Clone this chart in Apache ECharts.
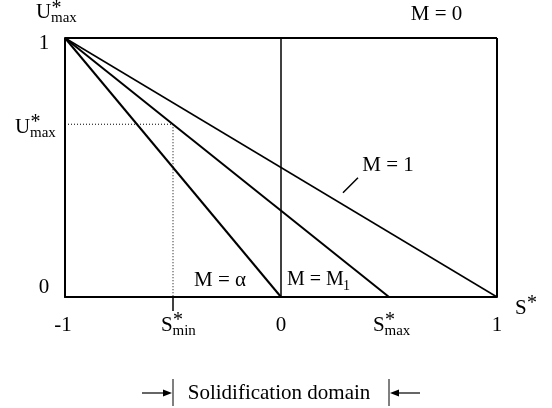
<!DOCTYPE html>
<html>
<head>
<meta charset="utf-8">
<script src="https://cdn.jsdelivr.net/npm/echarts@6/dist/echarts.min.js"></script>
<style>
  html, body { margin: 0; padding: 0; background: #fff; }
  #chart { width: 552px; height: 408px; }
</style>
</head>
<body>
<div id="chart"></div>
<script>
// Every straight line starts at U* = 1 for S* = -1 and falls to U* = 0 at its end point
const startPoint = [-1, 1];
const curveNames = ['M = α', 'M = M1', 'M = 1'];
const curveEnds = [0, 0.5, 1];

// Solidification domain limits and the U*max reached at S*min
const sMin = -0.5;
const sMax = 0.5;
const uMaxAtSMin = 0.667;

// Plain numeric tick labels
const xTickValues = [-1, 0, 1];
const yTickValues = [0, 1];

const FONT = '"Liberation Serif", "Times New Roman", serif';
const BLACK = '#000';
const curveWidths = [2, 2, 1.5];

const chart = echarts.init(document.getElementById('chart'), null, { renderer: 'canvas' });

function segment(name, pts, width, type) {
  return {
    name: name,
    type: 'line',
    data: pts,
    symbol: 'none',
    silent: true,
    animation: false,
    clip: false,
    lineStyle: { color: BLACK, width: width, type: type || 'solid' }
  };
}

const series = [];
curveNames.forEach(function (n, i) {
  series.push(segment(n, [startPoint, [curveEnds[i], 0]], curveWidths[i]));
});
// M = 0 : the horizontal line U* = 1
series.push(segment('M = 0', [[-1, 1], [1, 1]], 2));
// right frame at S* = 1 and the divider at S* = 0
series.push(segment('frame', [[1, 0], [1, 1]], 2));
series.push(segment('zero', [[0, 0], [0, 1]], 1.5));
// dotted guides to U*max and S*min
series.push(segment('guideH', [[-1, uMaxAtSMin], [sMin, uMaxAtSMin]], 1, [1, 2]));
series.push(segment('guideV', [[sMin, uMaxAtSMin], [sMin, 0]], 1, [1, 2]));

chart.setOption({
  animation: false,
  grid: { left: 65, right: 55, top: 38, bottom: 111 },
  xAxis: {
    type: 'value', min: -1, max: 1,
    axisLine: { show: true, onZero: false, lineStyle: { color: BLACK, width: 2 } },
    axisTick: { show: true, customValues: [sMin], length: 14, inside: false,
                lineStyle: { color: BLACK, width: 1.5 } },
    axisLabel: { show: false },
    splitLine: { show: false }
  },
  yAxis: {
    type: 'value', min: 0, max: 1,
    axisLine: { show: true, onZero: false, lineStyle: { color: BLACK, width: 2 } },
    axisTick: { show: false },
    axisLabel: { show: false },
    splitLine: { show: false }
  },
  series: series
});

function px(x, y) { return chart.convertToPixel({ gridIndex: 0 }, [x, y]); }

function txt(text, x, y, size, align, extra) {
  const style = {
    text: text, x: x, y: y,
    fontSize: size, fontFamily: FONT, fill: BLACK,
    align: align || 'center', textAlign: align || 'center',
    verticalAlign: 'middle', textVerticalAlign: 'middle'
  };
  return Object.assign({ type: 'text', silent: true, style: style }, extra || {});
}

// Symbol with a star above and a subscript below, written after the base letter
function starred(base, sub, left, cy) {
  const baseW = base === 'U' ? 15.5 : 12;
  const y = cy + 2;
  const out = [txt(base, left, y, 21, 'left')];
  out.push(txt('*', left + baseW, y - 4, 20, 'left'));
  if (sub) out.push(txt(sub, left + baseW - 0.5, y + 6, 15, 'left'));
  return out;
}

const g = [];
const origin = px(-1, 0);
const rightBottom = px(1, 0);

// y axis title and ticks
g.push.apply(g, starred('U', 'max', origin[0] - 29, 10.5));
yTickValues.forEach(function (v) {
  const p = px(-1, v);
  g.push(txt(String(v), p[0] - 21, v === 1 ? p[1] + 5 : p[1] - 10, 21));
});
const pu = px(-1, uMaxAtSMin);
g.push.apply(g, starred('U', 'max', pu[0] - 50, pu[1] + 1));

// x axis ticks and title
xTickValues.forEach(function (v) {
  const p = px(v, 0);
  g.push(txt(String(v), p[0] + (v === -1 ? -2 : 0), p[1] + 28, 21));
});
const pMin = px(sMin, 0);
const pMax = px(sMax, 0);
g.push.apply(g, starred('S', 'min', pMin[0] - 12, pMin[1] + 26));
g.push.apply(g, starred('S', 'max', pMax[0] - 16, pMax[1] + 26));
g.push.apply(g, starred('S', null, rightBottom[0] + 18, rightBottom[1] + 9));

// curve labels
g.push(txt('M = 0', px(0.72, 1)[0], 14, 21));
const p0 = px(0, 0);
g.push(txt('M = α', p0[0] - 61, p0[1] - 17, 21));
g.push(txt('M = M', p0[0] + 6, p0[1] - 17, 20, 'left'));
g.push(txt('1', p0[0] + 62, p0[1] - 11, 14, 'left'));
const lead = px(0.287, 1 - (0.287 + 1) / 2);
g.push({ type: 'line', silent: true,
  shape: { x1: lead[0], y1: lead[1] - 12, x2: lead[0] + 15, y2: lead[1] - 27 },
  style: { stroke: BLACK, lineWidth: 1.5 } });
g.push(txt('M = 1', lead[0] + 45, lead[1] - 39, 21));

// solidification domain bracket
const by = 393;
g.push({ type: 'line', silent: true, shape: { x1: pMin[0], y1: by - 14, x2: pMin[0], y2: by + 13 },
  style: { stroke: BLACK, lineWidth: 1 } });
g.push({ type: 'line', silent: true, shape: { x1: pMax[0], y1: by - 14, x2: pMax[0], y2: by + 13 },
  style: { stroke: BLACK, lineWidth: 1 } });
g.push({ type: 'line', silent: true, shape: { x1: pMin[0] - 31, y1: by, x2: pMin[0] - 6, y2: by },
  style: { stroke: BLACK, lineWidth: 1.2 } });
g.push({ type: 'polygon', silent: true,
  shape: { points: [[pMin[0] - 1, by], [pMin[0] - 10, by - 3.5], [pMin[0] - 10, by + 3.5]] },
  style: { fill: BLACK } });
g.push({ type: 'line', silent: true, shape: { x1: pMax[0] + 6, y1: by, x2: pMax[0] + 31, y2: by },
  style: { stroke: BLACK, lineWidth: 1.2 } });
g.push({ type: 'polygon', silent: true,
  shape: { points: [[pMax[0] + 1, by], [pMax[0] + 10, by - 3.5], [pMax[0] + 10, by + 3.5]] },
  style: { fill: BLACK } });
g.push(txt('Solidification domain', (pMin[0] + pMax[0]) / 2 - 2, by, 21));

chart.setOption({ graphic: g });
</script>
</body>
</html>
